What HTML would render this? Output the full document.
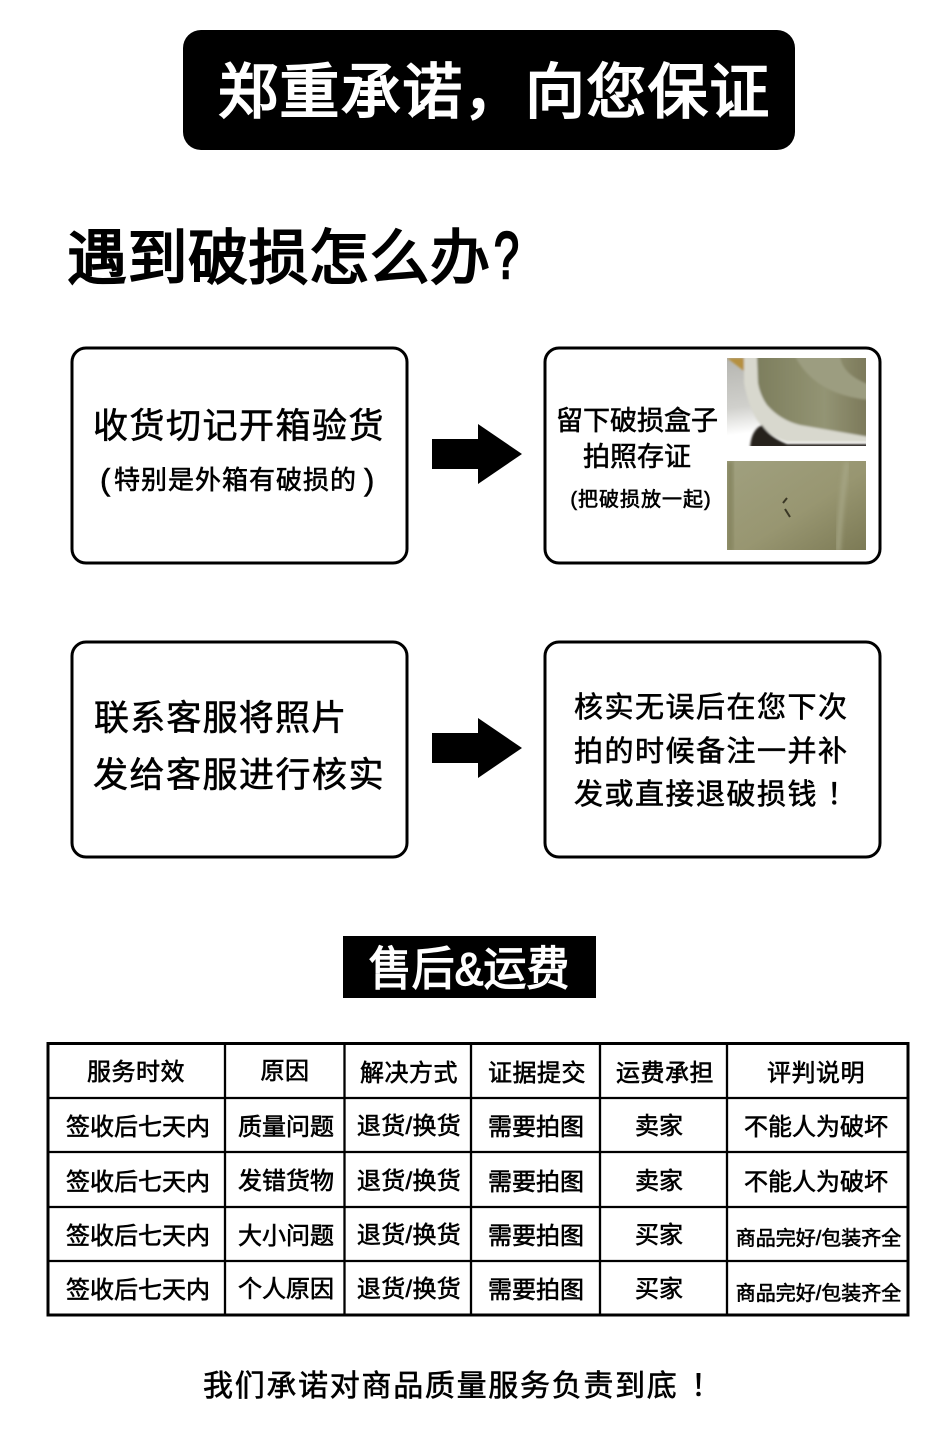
<!DOCTYPE html>
<html>
<head>
<meta charset="utf-8">
<style>
html,body{margin:0;padding:0;background:#fff;}
svg{display:block;}
text{font-family:"Liberation Sans","Noto Sans CJK SC",sans-serif;fill:#000;stroke:#000;stroke-width:.6px;}
.w{fill:#fff;stroke:#fff;}
.h{stroke-width:2px;}
.m{text-anchor:middle;}
.tb text{font-size:24px;text-anchor:middle;}
.tb .s{font-size:20px;}
</style>
</head>
<body>
<svg width="950" height="1447" viewBox="0 0 950 1447" xmlns="http://www.w3.org/2000/svg">
<defs>
<linearGradient id="bg1" x1="0" y1="0" x2="0.2" y2="1">
<stop offset="0" stop-color="#b5b5b0"/><stop offset="0.55" stop-color="#d0d0cc"/><stop offset="0.85" stop-color="#ffffff"/>
</linearGradient>
<linearGradient id="ol1" x1="0" y1="0" x2="1" y2="0">
<stop offset="0" stop-color="#7d7e5e"/><stop offset="0.35" stop-color="#8a8b6a"/><stop offset="0.6" stop-color="#939474"/><stop offset="1" stop-color="#7a7758"/>
</linearGradient>
<linearGradient id="p2" x1="0" y1="0" x2="1" y2="1">
<stop offset="0" stop-color="#a0a07f"/><stop offset="0.55" stop-color="#989671"/><stop offset="1" stop-color="#7c7a55"/>
</linearGradient>
<filter id="bl" x="-5%" y="-5%" width="110%" height="110%"><feGaussianBlur stdDeviation="1"/></filter>
<filter id="bl2" x="-20%" y="-20%" width="140%" height="140%"><feGaussianBlur stdDeviation="2.500"/></filter>
<clipPath id="c1"><rect x="727" y="358" width="139" height="88"/></clipPath>
<clipPath id="c2"><rect x="727" y="461" width="139" height="89"/></clipPath>
</defs>
<rect width="950" height="1447" fill="#fff"/>

<rect x="183" y="30" width="612" height="120" rx="18" fill="#000"/>
<text x="218" y="113" class="w h" font-size="60" letter-spacing="1.400">郑重承诺，向您保证</text>

<text x="67" y="279" class="h" font-size="60" letter-spacing="0.500">遇到破损怎么办</text>
<text transform="translate(494,278) scale(.68,1)" class="h" font-size="66" style="stroke-width:2.500px">?</text>

<g fill="#fff" stroke="#000" stroke-width="3">
<rect x="72" y="348" width="335" height="215" rx="14"/>
<rect x="545" y="348" width="335" height="215" rx="14"/>
<rect x="72" y="642" width="335" height="215" rx="14"/>
<rect x="545" y="642" width="335" height="215" rx="14"/>
</g>

<polygon points="432,439 478,439 478,424 522,454 478,484 478,469 432,469" fill="#000"/>
<polygon points="432,733 478,733 478,718 522,748 478,778 478,763 432,763" fill="#000"/>

<text x="93" y="438" font-size="35" letter-spacing="1.500">收货切记开箱验货</text>
<text x="100" y="490" font-size="31">(</text>
<text x="114" y="489" font-size="26" letter-spacing="1">特别是外箱有破损的</text>
<text x="364" y="490" font-size="31">)</text>

<text x="637" y="430" class="m" font-size="27">留下破损盒子</text>
<text x="637" y="466" class="m" font-size="27">拍照存证</text>
<text x="641" y="506" class="m" font-size="20" letter-spacing="1">(把破损放一起)</text>

<g clip-path="url(#c1)">
<rect x="727" y="358" width="139" height="88" fill="url(#bg1)"/>
<g filter="url(#bl)">
<polygon points="727,358 744,358 744,371" fill="#b5903f"/>
<path d="M744 356 L744 383 Q748 405 757 420 Q768 436 787 442 L870 442 L870 356 Z" fill="#d8d8ce"/>
<path d="M757 356 L758 383 Q760 395 767 405 Q780 420 800 425 L870 437 L870 356 Z" fill="url(#ol1)"/>
<path d="M795 356 L840 356 Q842 375 870 385 L870 400 Q815 395 795 356 Z" fill="#9c9d80"/>
<path d="M750 448 Q751 430 762 425 Q770 437 787 444 L870 444 L870 448 Z" fill="#26241f"/>
</g>
</g>
<g clip-path="url(#c2)">
<rect x="727" y="461" width="139" height="89" fill="url(#p2)"/>
<path d="M847 462 Q840 510 838 552" stroke="#a8a888" stroke-width="4" fill="none" filter="url(#bl2)"/>
<path d="M727 461 L733 461 L733 552 L727 552 Z" fill="#85845f" filter="url(#bl2)"/>
<path d="M787 498 L783 503 M785 509 L790 517" fill="none" stroke="#3a3725" stroke-width="2"/>
</g>

<text x="94" y="730" font-size="35" letter-spacing="1.200">联系客服将照片</text>
<text x="93" y="787" font-size="35" letter-spacing="1.500">发给客服进行核实</text>

<text x="574" y="717" font-size="29" letter-spacing="1.500">核实无误后在您下次</text>
<text x="574" y="761" font-size="29" letter-spacing="1.500">拍的时候备注一并补</text>
<text x="574" y="804" font-size="29" letter-spacing="1.500">发或直接退破损钱</text>
<text x="827" y="804" font-size="29">！</text>

<rect x="343" y="936" width="253" height="62" fill="#000"/>
<text transform="translate(469,985) scale(1,1.080)" class="m w" font-size="43" style="stroke-width:1.200px">售后&amp;运费</text>

<g stroke="#000" fill="none">
<rect x="48" y="1043.500" width="860" height="271.500" stroke-width="3"/>
<path stroke-width="2.300" d="M225 1043V1315M344.500 1043V1315M471 1043V1315M600 1043V1315M727 1043V1315M48 1098H908M48 1152H908M48 1207H908M48 1261H908"/>
</g>

<g class="tb">
<text x="136" y="1080" letter-spacing=".5">服务时效</text>
<text x="285" y="1079" letter-spacing=".5">原因</text>
<text x="409" y="1081" letter-spacing=".5">解决方式</text>
<text x="537" y="1081" letter-spacing=".5">证据提交</text>
<text x="665" y="1081" letter-spacing=".5">运费承担</text>
<text x="816" y="1081" letter-spacing=".5">评判说明</text>

<text x="138" y="1135">签收后七天内</text>
<text x="286" y="1135">质量问题</text>
<text x="409" y="1134" letter-spacing=".3">退货/换货</text>
<text x="536" y="1135">需要拍图</text>
<text x="659" y="1134">卖家</text>
<text x="816" y="1135">不能人为破坏</text>

<text x="138" y="1190">签收后七天内</text>
<text x="286" y="1189">发错货物</text>
<text x="409" y="1189" letter-spacing=".3">退货/换货</text>
<text x="536" y="1190">需要拍图</text>
<text x="659" y="1189">卖家</text>
<text x="816" y="1190">不能人为破坏</text>

<text x="138" y="1244">签收后七天内</text>
<text x="286" y="1244">大小问题</text>
<text x="409" y="1243" letter-spacing=".3">退货/换货</text>
<text x="536" y="1244">需要拍图</text>
<text x="659" y="1243">买家</text>
<text x="818.500" y="1245" class="s">商品完好/包装齐全</text>

<text x="138" y="1298">签收后七天内</text>
<text x="286" y="1297">个人原因</text>
<text x="409" y="1297" letter-spacing=".3">退货/换货</text>
<text x="536" y="1298">需要拍图</text>
<text x="659" y="1297">买家</text>
<text x="818.500" y="1300" class="s">商品完好/包装齐全</text>
</g>

<text x="203" y="1396" font-size="30" letter-spacing="1.700">我们承诺对商品质量服务负责到底</text>
<text x="691" y="1396" font-size="30">！</text>
</svg>
</body>
</html>
